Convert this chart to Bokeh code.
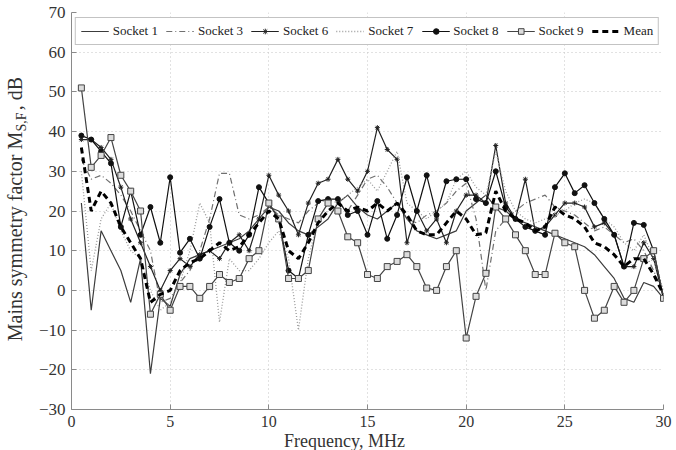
from bokeh.plotting import figure
from bokeh.layouts import row, column
from bokeh.models import Range1d, FixedTicker, Legend, LegendItem, LinearAxis
from bokeh.core.properties import value
from bokeh.embed import file_html
from bokeh.resources import INLINE

# Frequency grid, MHz (0.5 MHz steps)
freq = [0.5 * (i + 1) for i in range(60)]

# Mains symmetry factor per socket, dB
socket1 = [22, -5, 15, 10, 5, -3, 8, -21, -2, -4,
           4, 8, 9, 10, 11, 12, 13, 15, 18, 21,
           20, 17, 15, 14, 16, 18, 22, 24, 21, 19,
           18, 20, 22, 18, 15, 14, 13, 14, 15, 20,
           22, 24, 21, 20, 18, 17, 16, 15, 14, 13,
           12, 11, 9, 6, 3, -2, -3, 2, 1, -2]
socket3 = [33, 28, 29, 27, 24, 20, 15, 10, -3, -2,
           2, 5, 10, 18, 29.5, 29.5, 19, 18, 19, 21,
           19, 18, 17, 20, 22, 23, 22, 20, 24, 28,
           29, 26, 22, 18, 17, 19, 20, 22, 25, 27,
           18, 0, 15, 18, 20, 22, 23, 24, 21, 20,
           19, 17, 15, 16, 14, 12, 13, 10, 5, -1]
socket6 = [38, 38, 36, 33, 26, 18, 12, 6, 0, 5,
           8, 6, 9, 10, 8, 12, 14, 10, 18, 29,
           24, 20, 14, 22, 27, 28, 33, 28, 25, 30,
           41, 35.5, 33, 12, 20, 15, 18, 12, 20, 24,
           24, 22, 36.5, 22, 18, 28, 15, 16, 19, 22,
           22, 21, 16, 17, 14, 6, 6, 12, 8, -2]
socket7 = [30, 5, 18, 22, 15, 10, 8, 0, -5, -3,
           2, 10, 22, 17, -8, 8, 5, 5, 8, 12,
           15, 8, -10, 8, 18, 20, 22, 24, 26, 28,
           25, 30, 35, 22, 20, 18, 20, 22, 28, 30,
           26, 24, 35, 25, 20, 18, 17, 18, 19, 20,
           22, 23, 22, 18, 16, 12, 10, 14, 8, 0]
socket8 = [39, 38, 35, 32, 16, 25, 14, 21, 12, 28.5,
           9.5, 13, 8, 16, 23, 12, 10, 14, 26, 22,
           18, 5, 3, 14, 22.5, 23, 23, 19, 20, 14,
           22.5, 13, 19, 28.5, 20, 29, 19, 27.5, 28, 28,
           23, 22, 30, 21, 18, 16, 15, 14, 26, 29.5,
           24.5, 26.5, 22, 18, 14, 6, 17, 16.5, 10, -2]
socket9 = [51, 31, 34, 38.5, 29, 25, 20, -6, -1, -5,
           1, 1, -2, 1, 4, 2, 3, 8, 10, 22,
           18, 3, 3, 5, 18, 22, 20, 13.5, 12, 4,
           3, 6, 7.3, 9, 6, 0.6, 0, 6, 10, -12,
           -1.5, 4.3, 21, 18, 14, 10, 4, 4, 14.4, 12,
           11, 0, -7, -5, 1, -3, 0, 8, 10, -2]
mean = [36, 20, 25, 22, 16, 12, 8, -3, -1, 0,
        5, 7, 8, 10, 12, 10, 11, 14, 17, 20,
        18, 10, 8, 12, 17, 20, 22, 20, 21, 20,
        22, 20, 22, 19, 15, 14, 14, 17, 20, 18,
        14, 14.5, 25, 20, 18, 17, 15, 16, 21, 19,
        18, 16, 12, 11, 9, 6, 8, 8, 4, -1]

x_ticks = [0, 5, 10, 15, 20, 25, 30]
y_ticks = [-30, -20, -10, 0, 10, 20, 30, 40, 50, 60, 70]

SERIF = "'Liberation Serif', 'Times New Roman', serif"
TEXT_COLOR = "#333333"

MAIN_H = 431
STRIP_W = 30

# ---- main chart -------------------------------------------------------------
p = figure(width=676 - STRIP_W, height=MAIN_H, output_backend="svg", toolbar_location=None,
           x_range=Range1d(0, 30), y_range=Range1d(-30, 70),
           min_border_left=41, min_border_right=13,
           min_border_top=12, min_border_bottom=22)
p.outline_line_color = None

for ax in (p.xaxis[0], p.yaxis[0]):
    ax.axis_line_color = "#8a8a8a"
    ax.major_tick_line_color = "#8a8a8a"
    ax.major_tick_in = 5
    ax.major_tick_out = 0
    ax.minor_tick_line_color = None
    ax.major_label_text_font = SERIF
    ax.major_label_text_color = TEXT_COLOR
    ax.major_label_standoff = 6
p.xaxis.major_label_text_font_size = "16px"
p.yaxis.major_label_text_font_size = "17px"

p.xaxis.ticker = FixedTicker(ticks=x_ticks)
p.yaxis.ticker = FixedTicker(ticks=y_ticks)
p.yaxis.major_label_overrides = {t: (f"\u2212{abs(t)}" if t < 0 else str(t)) for t in y_ticks}

for g in (p.xgrid[0], p.ygrid[0]):
    g.grid_line_color = "#c4c4c4"
    g.grid_line_dash = "1 3"
    g.grid_line_width = 1

items = []

def add_series(label, ys, color, width=1.2, dash="solid", marker=None, msize=5,
               fill=None):
    rs = [p.line(freq, ys, line_color=color, line_width=width, line_dash=dash)]
    if marker is not None:
        rs.append(p.scatter(freq, ys, marker=marker, size=msize, line_color=color,
                            fill_color=fill if fill is not None else color,
                            line_width=1))
    items.append(LegendItem(label=label, renderers=rs))

add_series("Socket 1", socket1, "#3c3c3c")
add_series("Socket 3", socket3, "#707070", dash="6 3 1 3")
add_series("Socket 6", socket6, "#222222", marker="asterisk", msize=5)
add_series("Socket 7", socket7, "#9a9a9a", width=1.3, dash="1 2")
add_series("Socket 8", socket8, "#111111", marker="circle", msize=5)
add_series("Socket 9", socket9, "#444444", marker="square", msize=6, fill="#dcdcdc")
add_series("Mean", mean, "#000000", width=3, dash="6 4")

legend = Legend(items=items, location="top_center", orientation="horizontal",
                margin=5, padding=5, spacing=8, label_standoff=4,
                glyph_width=28, glyph_height=14, label_height=14,
                label_text_font=SERIF, label_text_font_size="13px",
                label_text_color="#222222",
                border_line_color="#888888", border_line_width=1,
                background_fill_color="white", background_fill_alpha=1)
p.add_layout(legend)

# ---- y-axis title: a stack of thin panels, each carrying one axis label ------
def title_piece(height, text=None, font_size="20px", left=28, standoff=5):
    f = figure(width=STRIP_W, height=height, output_backend="svg", toolbar_location=None,
               x_range=Range1d(0, 1), y_range=Range1d(0, 1),
               x_axis_location=None, y_axis_location=None,
               min_border_left=left, min_border_right=0,
               min_border_top=0, min_border_bottom=0)
    f.outline_line_color = None
    f.grid.visible = False
    if text:
        ax = LinearAxis(axis_label=text, ticker=FixedTicker(ticks=[]),
                        axis_line_color=None, major_tick_line_color=None,
                        minor_tick_line_color=None, axis_label_standoff=standoff,
                        axis_label_text_font=SERIF, axis_label_text_font_size=font_size,
                        axis_label_text_font_style="normal",
                        axis_label_text_color=TEXT_COLOR)
        f.add_layout(ax, "left")
    return f

pieces = [
    title_piece(74),
    title_piece(38, ", dB"),
    title_piece(19, "S,F", font_size="14px", left=29, standoff=2),
    title_piece(210, "Mains symmetry factor M"),
    title_piece(MAIN_H - 74 - 38 - 19 - 210),
]
ylab = column(*pieces, spacing=0)

# ---- x-axis title strip ------------------------------------------------------
XH = 450 - MAIN_H
xlab = figure(width=676, height=XH, output_backend="svg", toolbar_location=None,
              x_range=Range1d(0, 676), y_range=Range1d(0, XH),
              x_axis_location=None, y_axis_location=None, min_border=0)
xlab.outline_line_color = None
xlab.grid.visible = False
xlab.text(x=[344], y=[XH / 2], text=["Frequency, MHz"], text_align="center",
          text_baseline="middle", text_font=value(SERIF),
          text_font_size="18px", text_color=TEXT_COLOR)

layout = column(row(ylab, p, spacing=0), xlab, spacing=0)

open("out.html", "w").write(file_html(layout, INLINE))
